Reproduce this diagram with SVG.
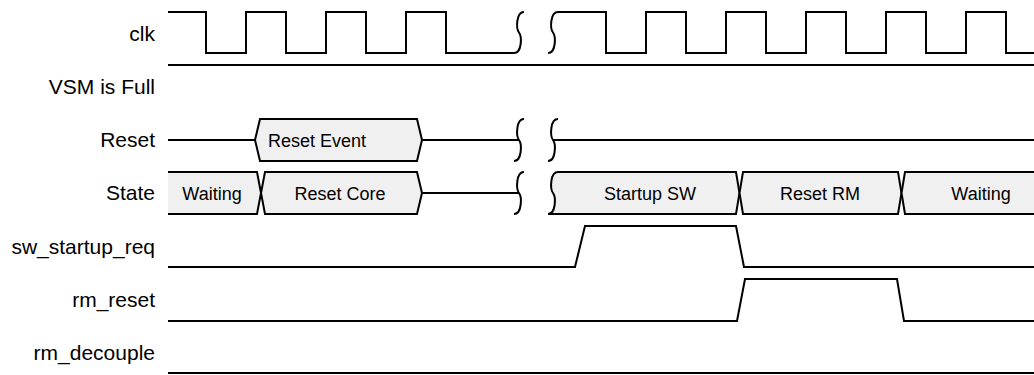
<svg xmlns="http://www.w3.org/2000/svg" width="1034" height="375" viewBox="0 0 1034 375">
  <style>
    .lbl { font-family: "Liberation Sans", Arial, sans-serif; font-size: 21px; fill: #000; text-anchor: end; }
    .btxt { font-family: "Liberation Sans", Arial, sans-serif; font-size: 18px; fill: #000; text-anchor: middle; }
    .wave { fill: none; stroke: #000; stroke-width: 2; stroke-linejoin: miter; }
    .box { fill: #f0f0f0; stroke: #000; stroke-width: 2; stroke-linejoin: miter; }
    .fillonly { fill: #f0f0f0; stroke: none; }
  </style>
  <rect width="1034" height="375" fill="#fff"/>

  <g id="labels">
    <text class="lbl" x="155" y="41">clk</text>
    <text class="lbl" x="155" y="94">VSM is Full</text>
    <text class="lbl" x="155" y="147">Reset</text>
    <text class="lbl" x="155" y="200">State</text>
    <text class="lbl" x="155" y="254">sw_startup_req</text>
    <text class="lbl" x="155" y="307">rm_reset</text>
    <text class="lbl" x="155" y="360">rm_decouple</text>
  </g>

  <g id="clk">
    <path class="wave" d="M168,12 H206 V53 H246 V12 H286 V53 H326 V12 H366 V53 H406 V12 H446 V53 H514"/>
    <path class="wave" d="M524,12 C516,12 516,28.5 519,32.5 C522,36.5 522,53 514,53"/>
    <path class="wave" d="M558,12 C550,12 550,28.5 553,32.5 C556,36.5 556,53 548,53"/>
    <path class="wave" d="M558,12 H606 V53 H646 V12 H686 V53 H726 V12 H766 V53 H806 V12 H846 V53 H886 V12 H926 V53 H966 V12 H1006 V53 H1036"/>
  </g>

  <g id="vsm_is_full">
    <path class="wave" d="M168,65 H1036"/>
  </g>

  <g id="reset">
    <path class="wave" d="M168,140 H255"/>
    <path class="box" d="M255,140 L260,119 H417 L422,140 L417,161 H260 Z"/>
    <text class="btxt" x="317" y="147">Reset Event</text>
    <path class="wave" d="M422,140 H519"/>
    <path class="wave" d="M524,119 C516,119 516,136 519,140 C522,144 522,161 514,161"/>
    <path class="wave" d="M558,119 C550,119 550,136 553,140 C556,144 556,161 548,161"/>
    <path class="wave" d="M553,140 H1036"/>
  </g>

  <g id="state">
    <path class="fillonly" d="M168,172 H257 L261,193 L257,214 H168 Z"/>
    <path class="wave" d="M168,172 H257 L261,193 L257,214 H168"/>
    <text class="btxt" x="212" y="200">Waiting</text>
    <path class="box" d="M265,172 L261,193 L265,214 H417 L422,193 L417,172 Z"/>
    <text class="btxt" x="340" y="200">Reset Core</text>
    <path class="wave" d="M422,193 H519"/>
    <path class="wave" d="M524,172 C516,172 516,189 519,193 C522,197 522,214 514,214"/>
    <path class="box" d="M558,172 H736 L739.5,193 L736,214 H548 C556,214 556,197 553,193 C550,189 550,172 558,172 Z"/>
    <text class="btxt" x="650" y="200">Startup SW</text>
    <path class="box" d="M743,172 L739.5,193 L743,214 H898 L901.5,193 L898,172 Z"/>
    <text class="btxt" x="820" y="200">Reset RM</text>
    <path class="box" d="M905,172 L901.5,193 L905,214 H1040 V172 Z"/>
    <text class="btxt" x="981" y="200">Waiting</text>
  </g>

  <g id="sw_startup_req">
    <path class="wave" d="M168,267 H575 L585,226 H736 L744,267 H1036"/>
  </g>

  <g id="rm_reset">
    <path class="wave" d="M168,321 H737 L745,279 H897 L904,321 H1036"/>
  </g>

  <g id="rm_decouple">
    <path class="wave" d="M168,373 H1036"/>
  </g>
</svg>
